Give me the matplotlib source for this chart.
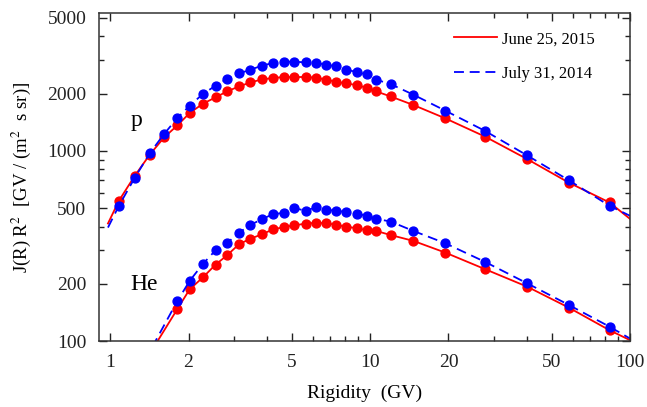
import numpy as np
import matplotlib.pyplot as plt
from matplotlib.ticker import FixedLocator, FixedFormatter, NullFormatter

plt.rcParams['font.family'] = ['Liberation Serif', 'DejaVu Serif']
plt.rcParams['mathtext.fontset'] = 'stix'

# rigidity bins (GV)
R_p = [1.08, 1.24, 1.42, 1.61, 1.81, 2.02, 2.27, 2.54, 2.81, 3.13, 3.46, 3.83,
       4.22, 4.64, 5.11, 5.64, 6.20, 6.77, 7.40, 8.09, 8.86, 9.68, 10.55, 11.97,
       14.67, 19.41, 27.6, 40.2, 58.0, 83.3]
R_he = R_p[4:]

# protons, J(R) R^2
p_2015 = [547, 736, 956, 1175, 1359, 1579, 1768, 1908, 2052, 2180, 2288, 2373,
          2413, 2443, 2443, 2443, 2422, 2364, 2307, 2260, 2217, 2146, 2052, 1932,
          1740, 1483, 1189, 904, 681, 535]
p_2014 = [515, 718, 973, 1224, 1486, 1726, 1988, 2198, 2385, 2552, 2669, 2802,
          2894, 2941, 2941, 2916, 2894, 2836, 2778, 2669, 2596, 2521, 2364, 2244,
          1971, 1628, 1274, 945, 701, 514]

# helium
he_2015 = [147, 187, 216, 252, 282, 323, 345, 364, 386, 397, 406, 414, 419, 416,
           409, 398, 393, 382, 379, 361, 336, 292, 239, 193, 150, 114]
he_2014 = [162, 207, 254, 300, 327, 371, 408, 437, 464, 472, 499, 485, 505, 489,
           485, 476, 468, 455, 439, 425, 379, 327, 261, 201, 155, 119]

# model curve end points: (R_start, J_start, J at 100 GV)
p_ends_2015 = (0.98, 415, 438)
p_ends_2014 = (0.98, 395, 455)
he_ends_2015 = (1.45, 90, 101)
he_ends_2014 = (1.45, 93, 103)

x_ticks = [1, 2, 5, 10, 20, 50, 100]
y_ticks = [100, 200, 500, 1000, 2000, 5000]


def curve(R, J, ends):
    return [ends[0]] + R + [100], [ends[1]] + J + [ends[2]]


fig = plt.figure(figsize=(6.47, 4.07), dpi=100)
ax = fig.add_axes([0.153, 0.162, 0.821, 0.806])

red, blue = '#ff0000', '#0000ff'
for R, J, ends, col, ls, lab in [
        (R_p, p_2015, p_ends_2015, red, '-', 'June 25, 2015'),
        (R_p, p_2014, p_ends_2014, blue, '--', 'July 31, 2014'),
        (R_he, he_2015, he_ends_2015, red, '-', None),
        (R_he, he_2014, he_ends_2014, blue, '--', None)]:
    cx, cy = curve(R, J, ends)
    line, = ax.plot(cx, cy, color=col, ls=ls, lw=1.3, label=lab)
    if ls == '--':
        line.set_dashes((5.5, 3.2))
    ax.plot(R, J, 'o', color=col, ms=6.4, mec=col)

ax.set_xscale('log')
ax.set_yscale('log')
ax.set_xlim(0.905, 100)
ax.set_ylim(100, 5300)

ax.xaxis.set_major_locator(FixedLocator(x_ticks))
ax.xaxis.set_major_formatter(FixedFormatter([str(t) for t in x_ticks]))
ax.xaxis.set_minor_locator(FixedLocator([3, 4, 6, 7, 8, 9, 30, 40, 60, 70, 80, 90]))
ax.xaxis.set_minor_formatter(NullFormatter())
ax.yaxis.set_major_locator(FixedLocator(y_ticks))
ax.yaxis.set_major_formatter(FixedFormatter([str(t) for t in y_ticks]))
ax.yaxis.set_minor_locator(FixedLocator([300, 400, 600, 700, 800, 900,
                                          3000, 4000]))
ax.yaxis.set_minor_formatter(NullFormatter())

ax.tick_params(which='both', direction='in', top=True, right=True,
               colors='#222222', labelsize=14, width=1.0)
ax.tick_params(which='major', length=6)
ax.tick_params(axis='x', which='major', pad=9)
ax.tick_params(axis='y', which='major', pad=9)
ax.tick_params(which='minor', length=3.5)
for s in ax.spines.values():
    s.set_color('#333333')
    s.set_linewidth(1.1)

ax.set_xlabel('Rigidity  (GV)', fontsize=14, labelpad=10)
ax.set_ylabel(r'J(R) R$^2$  [GV / (m$^2$  s sr)]', fontsize=13.5, labelpad=10)

ax.text(1.26, 1440, 'p', fontsize=17, ha='center', va='center')
ax.text(1.35, 199, 'He', fontsize=17, ha='center', va='center')

ax.legend(loc='upper left', bbox_to_anchor=(0.64, 0.99), frameon=False,
          fontsize=12, handlelength=2.6, handletextpad=0.3, labelspacing=1.1)

fig.savefig('out.png', dpi=100)
